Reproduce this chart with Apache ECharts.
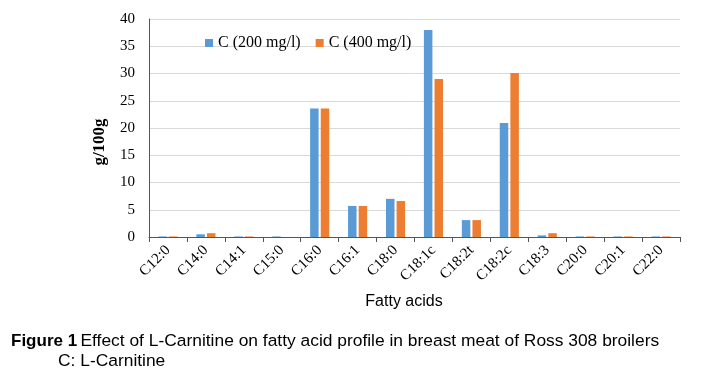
<!DOCTYPE html>
<html><head><meta charset="utf-8">
<script src="https://cdn.jsdelivr.net/npm/echarts@6/dist/echarts.min.js"></script>
<style>html,body{margin:0;padding:0;background:#fff}#c{width:715px;height:376px}</style>
</head><body><div id="c"></div>
<script>
var categories = ['C12:0','C14:0','C14:1','C15:0','C16:0','C16:1','C18:0','C18:1c','C18:2t','C18:2c','C18:3','C20:0','C20:1','C22:0'];
var c200 = [0.1,0.5,0.1,0.1,23.6,5.7,7.0,38.0,3.1,20.9,0.3,0.1,0.1,0.1];
var c400 = [0.1,0.7,0.1,0.0,23.6,5.7,6.6,29.0,3.1,30.1,0.7,0.1,0.1,0.1];
var yTicks = [0,5,10,15,20,25,30,35,40];

var chart = echarts.init(document.getElementById('c'));
chart.setOption({
  animation:false,
  grid:{left:149,right:35,top:19,bottom:139,containLabel:false},
  legend:{left:200,top:30,itemWidth:8,itemHeight:8,itemGap:15,icon:'rect',
    textStyle:{fontFamily:'Liberation Serif',fontSize:16,color:'#000'},
    data:['C (200 mg/l)','C (400 mg/l)']},
  xAxis:{type:'category',data:categories,
    axisLine:{lineStyle:{color:'#555',width:1}},
    axisTick:{show:true,alignWithLabel:false,length:5,lineStyle:{color:'#555'}},
    axisLabel:{rotate:45,interval:0,fontFamily:'Liberation Serif',fontSize:15,color:'#000',margin:11}},
  yAxis:{type:'value',min:yTicks[0],max:yTicks[yTicks.length-1],interval:5,
    axisLine:{show:true,lineStyle:{color:'#555'}},
    axisTick:{show:false},
    splitLine:{lineStyle:{color:'#d9d9d9'}},
    axisLabel:{fontFamily:'Liberation Serif',fontSize:15,color:'#000',margin:14}},
  series:[
    {name:'C (200 mg/l)',type:'bar',data:c200,barWidth:8.5,barGap:'25%',itemStyle:{color:'#5B9BD5'}},
    {name:'C (400 mg/l)',type:'bar',data:c400,barWidth:8.5,barGap:'25%',itemStyle:{color:'#ED7D31'}}
  ],
  graphic:[
    {type:'text',x:100,y:142,rotation:Math.PI/2,style:{text:'g/100g',font:'bold 17px "Liberation Serif"',fill:'#000',align:'center',verticalAlign:'middle'}},
    {type:'text',x:404,y:302,style:{text:'Fatty acids',font:'16px "Liberation Sans"',fill:'#000',align:'center',verticalAlign:'middle'}},
    {type:'text',left:11,top:333,style:{rich:{b:{font:'bold 17px "Liberation Sans"',fill:'#000'},n:{font:'17.4px "Liberation Sans"',fill:'#000'}},text:'{b|Figure 1} {n|Effect of L-Carnitine on fatty acid profile in breast meat of Ross 308 broilers}'}},
    {type:'text',left:58,top:353,style:{text:'C: L-Carnitine',font:'17.4px "Liberation Sans"',fill:'#000'}}
  ]
});
</script></body></html>
